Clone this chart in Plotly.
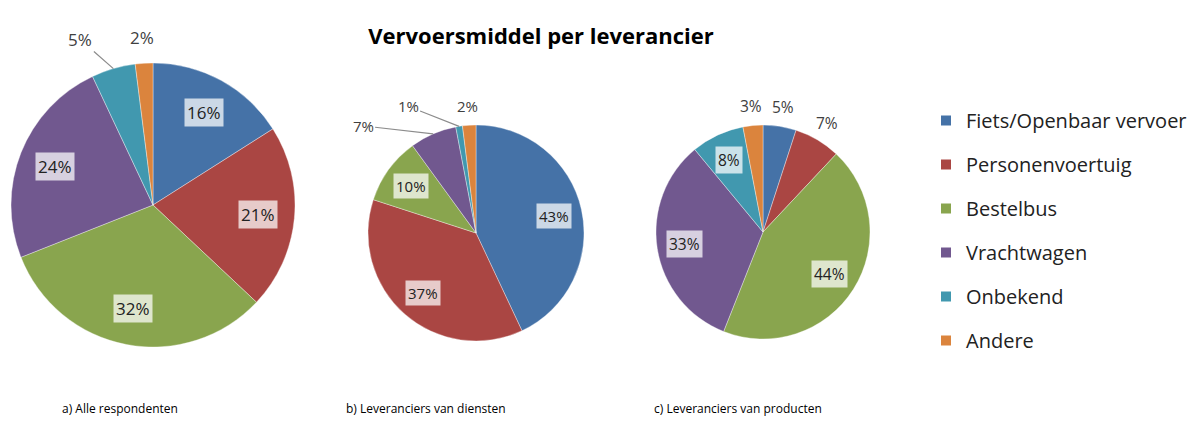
import math
import plotly.graph_objects as go

W, H = 1204, 421

categories = ["Fiets/Openbaar vervoer", "Personenvoertuig", "Bestelbus",
              "Vrachtwagen", "Onbekend", "Andere"]
alle_respondenten = [16, 21, 32, 24, 5, 2]
leveranciers_diensten = [43, 37, 10, 7, 1, 2]
leveranciers_producten = [5, 7, 44, 33, 8, 3]

captions = ["a) Alle respondenten", "b) Leveranciers van diensten",
            "c) Leveranciers van producten"]
title = "Vervoersmiddel per leverancier"

colors = ["#4572A7", "#AA4643", "#89A54E", "#71588F", "#4198AF", "#DB843D"]

# pie geometry in page pixels: centre x, centre y, radius, label font size
pies = [
    dict(values=alle_respondenten, cx=153, cy=205, r=142, fs=17, cap_x=120),
    dict(values=leveranciers_diensten, cx=476, cy=233, r=108, fs=15, cap_x=426),
    dict(values=leveranciers_producten, cx=763, cy=232, r=107, fs=15.5, cap_x=738),
]
# leader-line labels: (pie, slice) -> text offset in px from slice edge
leaders = {(0, 4): (-33, -29), (1, 3): (-70, -8), (1, 4): (-51, -20)}

FONT = "Open Sans, Noto Sans, Arial, sans-serif"


def paper(px, py):
    return px / W, 1 - py / H


fig = go.Figure()
annotations = []

for i, p in enumerate(pies):
    cx, cy, r = p["cx"], p["cy"], p["r"]
    x0, y1 = paper(cx - r, cy - r)
    x1, y0 = paper(cx + r, cy + r)
    fig.add_trace(go.Pie(
        labels=categories, values=p["values"], sort=False, direction="clockwise",
        rotation=0, textinfo="none", showlegend=False, hoverinfo="label+percent",
        marker=dict(colors=colors, line=dict(color="rgba(255,255,255,0.6)", width=0.6)),
        domain=dict(x=[x0, x1], y=[y0, y1]),
    ))
    total = sum(p["values"])
    cum = 0
    for j, v in enumerate(p["values"]):
        mid = (cum + v / 2) / total * 2 * math.pi
        cum += v
        s, c = math.sin(mid), math.cos(mid)
        txt = f"{v}%"
        if v >= 8:
            x, y = paper(cx + 0.74 * r * s, cy - 0.74 * r * c)
            annotations.append(dict(
                x=x, y=y, xref="paper", yref="paper", text=txt, showarrow=False,
                xanchor="center", yanchor="middle",
                bgcolor="rgba(255,255,255,0.72)", borderpad=2,
                font=dict(family=FONT, size=p["fs"], color="#222")))
        elif (i, j) in leaders:
            ax, ay = leaders[(i, j)]
            x, y = paper(cx + r * s, cy - r * c)
            annotations.append(dict(
                x=x, y=y, xref="paper", yref="paper", text=txt, showarrow=True,
                arrowhead=0, arrowwidth=1.2, arrowcolor="#8c8c8c", ax=ax, ay=ay,
                standoff=0, font=dict(family=FONT, size=p["fs"], color="#404040")))
        else:
            x, y = paper(cx + 1.18 * r * s, cy - 1.18 * r * c)
            annotations.append(dict(
                x=x, y=y, xref="paper", yref="paper", text=txt, showarrow=False,
                xanchor="center", yanchor="middle",
                font=dict(family=FONT, size=p["fs"], color="#404040")))
    x, y = paper(p["cap_x"], 408)
    annotations.append(dict(
        x=x, y=y, xref="paper", yref="paper", text=captions[i], showarrow=False,
        xanchor="center", yanchor="middle",
        font=dict(family=FONT, size=12, color="#000")))

# legend entries as dummy markers so the rows can be spaced out
for name, col in zip(categories, colors):
    fig.add_trace(go.Scatter(
        x=[None], y=[None], mode="markers", name=name, legendgroup=name,
        marker=dict(symbol="square", size=10, color=col),
    ))

tx, ty = paper(541, 36)
lx, ly = paper(926, 101)
fig.update_layout(
    width=W, height=H,
    margin=dict(t=0, b=0, l=0, r=0),
    paper_bgcolor="white", plot_bgcolor="white",
    title=dict(text=f"<b>{title}</b>", x=tx, xanchor="center", xref="paper",
               y=ty, yanchor="middle", yref="paper",
               font=dict(family=FONT, size=22, color="#000")),
    annotations=annotations,
    xaxis=dict(visible=False), yaxis=dict(visible=False),
    legend=dict(x=lx, y=ly, xanchor="left", yanchor="top",
                tracegroupgap=15, itemwidth=30,
                font=dict(family=FONT, size=20, color="#222"),
                bgcolor="rgba(0,0,0,0)"),
)

# drop the browser's default body margin so the figure fills the window
fig.write_html("out.html", config={"displayModeBar": False},
               post_script="document.body.style.margin='0';")
